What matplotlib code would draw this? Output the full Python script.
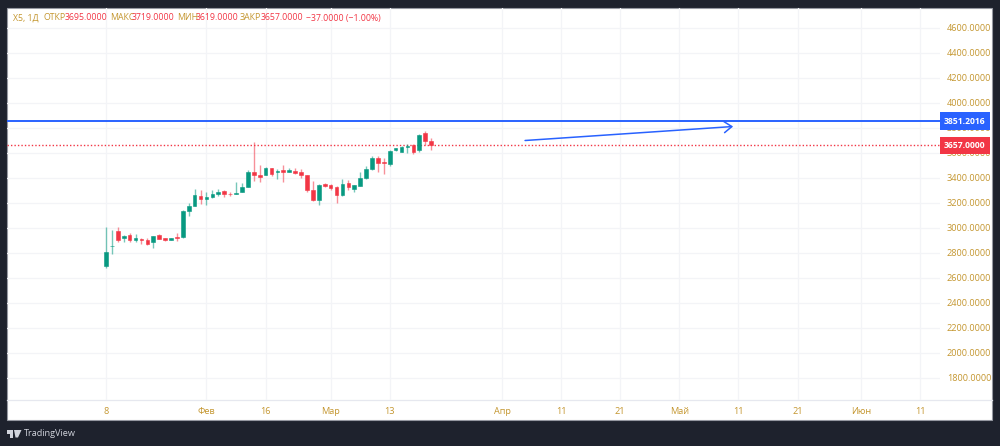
import matplotlib
matplotlib.use('Agg')
import matplotlib.pyplot as plt
from matplotlib.patches import Rectangle, Polygon
from matplotlib.lines import Line2D

opens = [2691, 2850, 2971, 2920, 2944, 2904, 2912, 2904, 2883, 2944, 2917, 2904, 2928, 2925,
         3133, 3171, 3251, 3232, 3245, 3267, 3291, 3272, 3267, 3285, 3325, 3448, 3424, 3424,
         3477, 3443, 3461, 3448, 3456, 3448, 3424, 3304, 3221, 3349, 3344, 3323, 3261, 3357,
         3309, 3336, 3395, 3467, 3557, 3528, 3509, 3619, 3605, 3643, 3661, 3619, 3755, 3695]
closes = [2808, 2855, 2904, 2936, 2904, 2920, 2901, 2867, 2936, 2912, 2901, 2920, 2920, 3136,
          3176, 3264, 3232, 3248, 3272, 3283, 3267, 3267, 3277, 3325, 3448, 3419, 3405, 3475,
          3432, 3456, 3448, 3459, 3440, 3419, 3304, 3221, 3344, 3336, 3317, 3259, 3352, 3323,
          3341, 3397, 3469, 3557, 3517, 3517, 3616, 3637, 3648, 3656, 3608, 3744, 3696, 3657]
highs = [3005, 2984, 3005, 2944, 2960, 2952, 2920, 2920, 2936, 2952, 2920, 2920, 2960, 3144,
         3197, 3309, 3304, 3283, 3299, 3309, 3304, 3288, 3368, 3357, 3459, 3688, 3501, 3485,
         3477, 3469, 3501, 3477, 3477, 3469, 3424, 3371, 3352, 3355, 3352, 3336, 3392, 3384,
         3344, 3443, 3491, 3576, 3576, 3557, 3624, 3640, 3651, 3672, 3667, 3752, 3776, 3719]
lows = [2677, 2792, 2888, 2888, 2888, 2888, 2867, 2864, 2840, 2909, 2896, 2904, 2896, 2920,
        3096, 3171, 3192, 3181, 3235, 3251, 3245, 3251, 3267, 3283, 3325, 3371, 3363, 3421,
        3416, 3389, 3363, 3443, 3432, 3395, 3283, 3211, 3179, 3328, 3304, 3200, 3256, 3304,
        3283, 3336, 3392, 3464, 3448, 3429, 3496, 3616, 3603, 3600, 3587, 3603, 3661, 3619]

price_ticks = list(range(1800, 4601, 200))
time_ticks = [0, 17, 27, 38, 48, 67, 77, 87, 97, 107, 117, 127.8, 137.8]
time_labels = ['8', 'Фев', '16', 'Мар', '13', 'Апр', '11', '21', 'Май', '11', '21', 'Июн', '11']

level_price = 3851.2016
last_price = 3657.0
arrow_bars = [70.9, 106.1]
arrow_prices = [3696, 3808]

DARK = '#1e222d'
GREEN = '#089981'
RED = '#f23645'
BLUE = '#2962ff'
GOLD = '#c4962f'
GRID = '#f3f4f7'

plt.rcParams['font.family'] = ['Open Sans', 'DejaVu Sans']

fig = plt.figure(figsize=(10, 4.46), dpi=100, facecolor=DARK)


def fx(x):
    return x / 1000


def fy(y):
    return 1 - y / 446


# white panel behind chart and both scales
panel = Rectangle((fx(7), fy(420)), fx(985), 412 / 446, transform=fig.transFigure,
                  facecolor='white', edgecolor='#9598a1', lw=0.8, zorder=-1)
fig.add_artist(panel)
fig.add_artist(Line2D([fx(7), fx(992)], [fy(400), fy(400)], transform=fig.transFigure,
                      color='#e6e8ef', lw=0.9, zorder=-0.5))

ax = fig.add_axes([fx(7), fy(400), fx(933), 392 / 446], zorder=1)
ax.patch.set_alpha(0)
ax.set_xlim(-16.75, 141.1)
ax.set_ylim(1620, 4756)

ax.set_yticks(price_ticks)
ax.set_yticklabels(['%.4f' % p for p in price_ticks])
ax.set_xticks(time_ticks)
ax.set_xticklabels(time_labels)
ax.yaxis.tick_right()
ax.tick_params(axis='y', length=0, pad=5, labelsize=6.6, labelcolor=GOLD)
ax.tick_params(axis='x', length=0, pad=5, labelsize=6.6, labelcolor=GOLD)
ax.grid(True, color=GRID, lw=0.9)
ax.set_axisbelow(True)
for side in ax.spines:
    ax.spines[side].set_visible(False)

# candles
for i in range(len(opens)):
    col = GREEN if closes[i] >= opens[i] else RED
    ax.vlines(i, lows[i], highs[i], color=col, lw=1.0, alpha=0.55, zorder=3)
    ax.bar(i, abs(closes[i] - opens[i]), bottom=min(opens[i], closes[i]), width=0.62,
           color=col, edgecolor=col, lw=0.4, zorder=4)

ax.axhline(level_price, color=BLUE, lw=1.4, zorder=5)
ax.axhline(last_price, color=RED, lw=1.0, ls=(0, (1, 1.5)), zorder=2)
ax.annotate('', xy=(arrow_bars[1], arrow_prices[1]), xytext=(arrow_bars[0], arrow_prices[0]),
            arrowprops=dict(arrowstyle='->,head_length=0.55,head_width=0.4', color=BLUE, lw=1.1,
                            shrinkA=0, shrinkB=0), zorder=5)

# price tags on the scale
trans = ax.get_yaxis_transform()
for price, col in [(level_price, BLUE), (last_price, RED)]:
    ax.text(1.0 + 25 / 933, price, '%.4f' % price, transform=trans, color='white', fontsize=6.2,
            fontweight='bold', ha='center', va='center', zorder=8, clip_on=False,
            bbox=dict(boxstyle='square,pad=0.5', facecolor=col, edgecolor=col, lw=0))

# header line
header = [(13, 'X5, 1Д', GOLD, 'Open Sans'), (44, 'ОТКР', GOLD, 'Liberation Sans Narrow'),
          (65, '3695.0000', RED, 'Open Sans'), (110, 'МАКС', GOLD, 'Liberation Sans Narrow'),
          (132, '3719.0000', RED, 'Open Sans'), (177, 'МИН', GOLD, 'Liberation Sans Narrow'),
          (196, '3619.0000', RED, 'Open Sans'), (240, 'ЗАКР', GOLD, 'Liberation Sans Narrow'),
          (261, '3657.0000', RED, 'Open Sans'), (306, '−37.0000 (−1.00%)', RED, 'Open Sans')]
for x, txt, col, fam in header:
    fig.text(fx(x), fy(18), txt, color=col, fontsize=6.3, va='center', ha='left',
             family=[fam, 'Open Sans', 'DejaVu Sans'])

# TradingView logo and name
logo_col = '#d1d4dc'
fig.add_artist(Rectangle((fx(7), fy(434)), fx(6), 4 / 446, transform=fig.transFigure,
                         facecolor=logo_col, lw=0))
fig.add_artist(Rectangle((fx(10), fy(437.5)), fx(3), 7.5 / 446, transform=fig.transFigure,
                         facecolor=logo_col, lw=0))
fig.add_artist(Polygon([(fx(14), fy(430)), (fx(21.5), fy(430)), (fx(18), fy(437.5)),
                        (fx(15.5), fy(437.5))], transform=fig.transFigure,
                       facecolor=logo_col, lw=0))
fig.text(fx(24), fy(433.5), 'TradingView', color=logo_col, fontsize=6.6, va='center', ha='left')

fig.savefig('out.png', dpi=100, facecolor=DARK)
